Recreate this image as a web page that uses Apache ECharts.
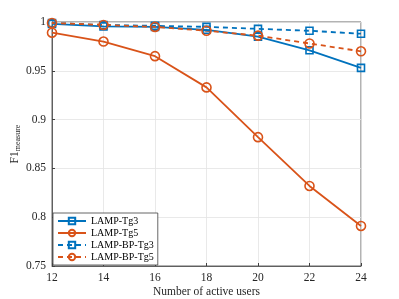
<!DOCTYPE html>
<html><head><meta charset="utf-8">
<script src="https://cdn.jsdelivr.net/npm/echarts@6/dist/echarts.min.js"></script>
<style>html,body{margin:0;padding:0;background:#fff}#c{width:399px;height:299px}</style>
</head><body><div id="c"></div>
<script>
var categories = [12, 14, 16, 18, 20, 22, 24];
var lampTg3 = [0.998, 0.9955, 0.995, 0.992, 0.985, 0.971, 0.953];
var lampTg5 = [0.989, 0.980, 0.965, 0.933, 0.882, 0.832, 0.791];
var lampBpTg3 = [0.999, 0.997, 0.996, 0.995, 0.993, 0.991, 0.988];
var lampBpTg5 = [0.999, 0.997, 0.995, 0.991, 0.986, 0.978, 0.970];
var yTicks = [0.75, 0.8, 0.85, 0.9, 0.95, 1];

var BLUE = '#0072BD', ORANGE = '#D95319';
function pairs(v){ return categories.map(function(x,i){return [x, v[i]];}); }
function mk(name, data, color, sym, dashed, size){
  return {
    name: name, type: 'line', data: pairs(data),
    symbol: sym, symbolSize: size, showSymbol: true,
    lineStyle: {color: color, width: 1.8, type: dashed ? [5,4] : 'solid'},
    itemStyle: {color: 'rgba(255,255,255,0)', borderColor: color, borderWidth: 1.6, opacity: 1},
    emphasis: {disabled: true}, z: dashed ? 3 : 2
  };
}
var chart = echarts.init(document.getElementById('c'), null, {renderer: 'canvas'});
var font = 'Liberation Serif, Times New Roman, serif';
chart.setOption({
  animation: false,
  backgroundColor: '#fff',
  textStyle: {fontFamily: font},
  grid: {left: 52, right: 38, top: 22, bottom: 33, containLabel: false, outerBoundsMode: 'none',
    show: true, borderColor: '#404040', borderWidth: 0.8},
  xAxis: {
    type: 'value', min: 12, max: 24, interval: 2,
    name: 'Number of active users', nameLocation: 'middle', nameGap: 20, nameMoveOverlap: false,
    nameTextStyle: {fontFamily: font, fontSize: 11.5, color: '#262626'},
    axisLine: {show: true, lineStyle: {color: '#404040', width: 0.8}},
    axisTick: {show: true, inside: true, length: 3, lineStyle: {color: '#404040'}},
    axisLabel: {fontFamily: font, fontSize: 11.5, color: '#262626', margin: 6},
    splitLine: {show: true, lineStyle: {color: '#e3e3e3', width: 0.8}}
  },
  yAxis: {
    type: 'value', min: 0.75, max: 1, interval: 0.05,
    name: '{a|F1}{b|measure}', nameLocation: 'middle', nameGap: 30, nameMoveOverlap: false,
    nameTextStyle: {rich: {a: {fontFamily: font, fontSize: 11.5, color: '#262626'}, b: {fontFamily: font, fontSize: 8, color: '#262626', verticalAlign: 'bottom', padding: [6,0,0,0]}}},
    axisLine: {show: true, lineStyle: {color: '#404040', width: 0.8}},
    axisTick: {show: true, inside: true, length: 3, lineStyle: {color: '#404040'}},
    axisLabel: {fontFamily: font, fontSize: 11.5, color: '#262626', margin: 6,
      formatter: function(v){ var r = Math.round(v*100)/100; return yTicks.indexOf(r) >= 0 ? String(r) : ''; }},
    splitLine: {show: true, lineStyle: {color: '#e3e3e3', width: 0.8}}
  },
  legend: {
    orient: 'vertical', left: 53, bottom: 34, itemGap: 2, itemWidth: 28, itemHeight: 8,
    backgroundColor: '#fff', borderColor: '#404040', borderWidth: 0.8, padding: [3, 4, 3, 4],
    textStyle: {fontFamily: font, fontSize: 10, color: '#000'},
    data: ['LAMP-Tg3', 'LAMP-Tg5', 'LAMP-BP-Tg3', 'LAMP-BP-Tg5']
  },
  series: [
    mk('LAMP-Tg3', lampTg3, BLUE, 'rect', false, 7),
    mk('LAMP-Tg5', lampTg5, ORANGE, 'circle', false, 9),
    mk('LAMP-BP-Tg3', lampBpTg3, BLUE, 'rect', true, 7),
    mk('LAMP-BP-Tg5', lampBpTg5, ORANGE, 'circle', true, 9)
  ]
});
</script></body></html>
